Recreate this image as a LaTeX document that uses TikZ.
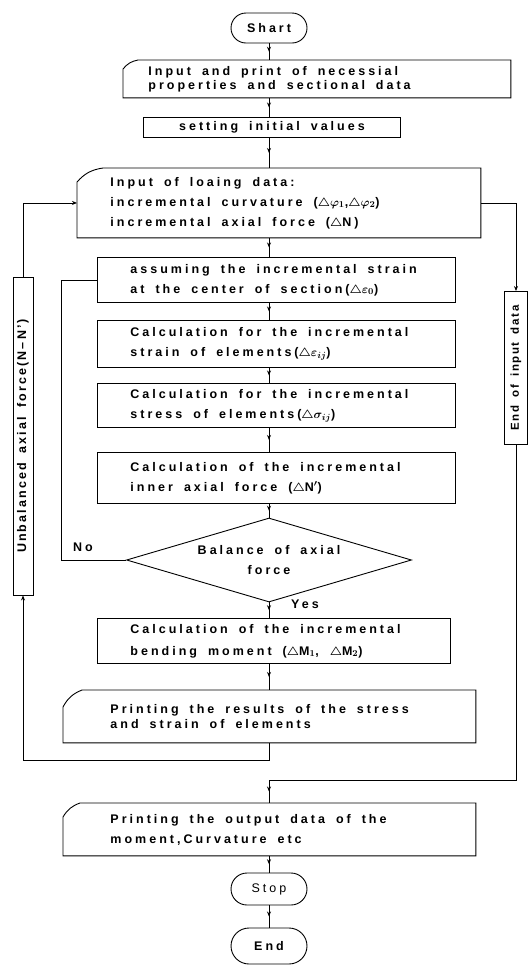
\documentclass[tikz,border=0pt]{standalone}
\usepackage{fontspec}
\setmainfont{Liberation Sans}[LetterSpace=24,WordSpace=1.7]
\usetikzlibrary{shapes.geometric,shapes.misc,arrows.meta,decorations.markings}

% outline of an input/output card: corner cut at the top left
\newcommand{\cardedge}[3]{%
  \draw[flowline] ([yshift=-#3]#1.north west) to[bend left=20] ([xshift=#2]#1.north west)
    -- (#1.north east) -- (#1.south east) -- (#1.south west) -- cycle;}

\tikzset{
  flowline/.style={line width=0.9pt},
  midarrow/.style={flowline, decoration={markings,
      mark=at position 0.5 with {\arrow{Stealth[length=5pt,width=4pt]}}},
      postaction={decorate}},
  endarrow/.style={flowline, -{Stealth[length=5pt,width=4pt]}},
  procbox/.style={draw, flowline, rectangle, anchor=north west, align=flush left,
      inner ysep=1pt, font=\bfseries\boldmath\fontsize{12.5}{20}\selectfont},
  cardbox/.style={procbox, draw=none},
  termbox/.style={draw, flowline, rounded rectangle, minimum width=78pt,
      inner sep=1pt, font=\bfseries\fontsize{12.5}{14}\selectfont},
  sidebox/.style={draw, flowline, rectangle, rotate=90, inner sep=0pt,
      font=\bfseries\fontsize{12.5}{14}\selectfont}
}

\begin{document}
\begin{tikzpicture}[x=1pt,y=-1pt]
\useasboundingbox (0,0) rectangle (529,967);

% main column
\node[termbox, minimum height=30pt] (start) at (269,28) {Shart};
\node[cardbox, minimum width=387pt, minimum height=37pt, text width=337pt,
  inner xsep=25pt, font=\bfseries\fontsize{12.5}{14}\selectfont] (inprop) at (123,60)
  {Input and print of necessial\\properties and sectional data};
\cardedge{inprop}{15pt}{9pt}
\node[procbox, align=center, minimum width=257pt, minimum height=20pt,
  inner sep=0pt] (init) at (143,117) {setting initial values};
\node[cardbox, minimum width=403pt, minimum height=69pt, text width=337pt,
  inner xsep=33pt] (loadin) at (77,168)
  {Input of loaing data:\\incremental curvature ($\triangle\varphi_1$,$\triangle\varphi_2$)\\incremental axial force ($\triangle$N)};
\cardedge{loadin}{26pt}{14pt}
\node[procbox, minimum width=358pt, minimum height=45pt, text width=292pt,
  inner xsep=33pt] (assume) at (97,257)
  {assuming the incremental strain\\at the center of section($\triangle\varepsilon_0$)};
\node[procbox, minimum width=358pt, minimum height=47pt, text width=292pt,
  inner xsep=33pt] (strain) at (97,320)
  {Calculation for the incremental\\strain of elements($\triangle\varepsilon_{ij}$)};
\node[procbox, minimum width=358pt, minimum height=44pt, text width=292pt,
  inner xsep=33pt] (stress) at (97,383)
  {Calculation for the incremental\\stress of elements($\triangle\sigma_{ij}$)};
\node[procbox, minimum width=358pt, minimum height=51pt, text width=292pt,
  inner xsep=33pt] (inner) at (97,452)
  {Calculation of the incremental\\inner axial force ($\triangle$N$'$)};
\node[draw, flowline, diamond, aspect=3.4, minimum width=285pt, minimum height=84pt,
  inner sep=0pt, align=center, font=\bfseries\fontsize{12.5}{20}\selectfont] (balance) at (269,560)
  {Balance of axial\\force};
\node[procbox, minimum width=353pt, minimum height=45pt, text width=287pt,
  inner xsep=33pt, font=\bfseries\boldmath\fontsize{12.5}{22}\selectfont] (bend) at (97,618)
  {Calculation of the incremental\\bending moment ($\triangle$M$_1$, $\triangle$M$_2$)};
\node[cardbox, minimum width=412pt, minimum height=52pt, text width=318pt,
  inner xsep=47pt, font=\bfseries\fontsize{12.5}{15}\selectfont] (printres) at (63,690)
  {Printing the results of the stress\\and strain of elements};
\cardedge{printres}{19pt}{17pt}
\node[cardbox, minimum width=412pt, minimum height=52pt, text width=318pt,
  inner xsep=47pt] (printout) at (63,803)
  {Printing the output data of the\\moment,Curvature etc};
\cardedge{printout}{17pt}{14pt}
\node[termbox, minimum height=32pt, font=\fontsize{12.5}{14}\selectfont] (stop) at (269,889) {Stop};
\node[termbox, minimum height=36pt] (endnode) at (269,946) {End};

% side boxes of the two loops
\node[sidebox, minimum width=318pt, minimum height=20pt,
  font=\bfseries\fontsize{12.5}{14}\selectfont\addfontfeatures{LetterSpace=17}] (unbal) at (23,436)
  {Unbalanced axial force(N–N’)};
\node[sidebox, minimum width=153pt, minimum height=23pt,
  font=\bfseries\fontsize{11.5}{14}\selectfont\addfontfeatures{LetterSpace=14}] (endinput) at (516,368)
  {End of input data};

% labels
\node[font=\bfseries\fontsize{12.5}{14}\selectfont] (nolbl) at (83,547) {No};
\node[font=\bfseries\fontsize{12.5}{14}\selectfont] (yeslbl) at (305,604) {Yes};

% connectors
\coordinate (axis) at (269,0);
\coordinate (join) at (269,780);
\draw[midarrow] (axis |- start.south) -- (axis |- inprop.north);
\draw[midarrow] (axis |- inprop.south) -- (axis |- init.north);
\draw[midarrow] (axis |- init.south) -- (axis |- loadin.north);
\draw[midarrow] (axis |- loadin.south) -- (axis |- assume.north);
\draw[midarrow] (axis |- assume.south) -- (axis |- strain.north);
\draw[midarrow] (axis |- strain.south) -- (axis |- stress.north);
\draw[midarrow] (axis |- stress.south) -- (axis |- inner.north);
\draw[midarrow] (axis |- inner.south) -- (balance.north);
\draw[midarrow] (balance.south) -- (axis |- bend.north);
\draw[midarrow] (axis |- bend.south) -- (axis |- printres.north);
\draw[flowline] (balance.west) -- ++(-65,0) |- (assume.west);
\draw[endarrow] (axis |- printres.south) -- ++(0,18) -| (unbal.west);
\draw[endarrow] (unbal.east) |- (loadin.west);
\draw[endarrow] (loadin.east) -| (endinput.east);
\draw[flowline] (endinput.west) |- (join);
\draw[midarrow] (join) -- (axis |- printout.north);
\draw[midarrow] (axis |- printout.south) -- (stop.north);
\draw[midarrow] (stop.south) -- (endnode.north);
\end{tikzpicture}
\end{document}
